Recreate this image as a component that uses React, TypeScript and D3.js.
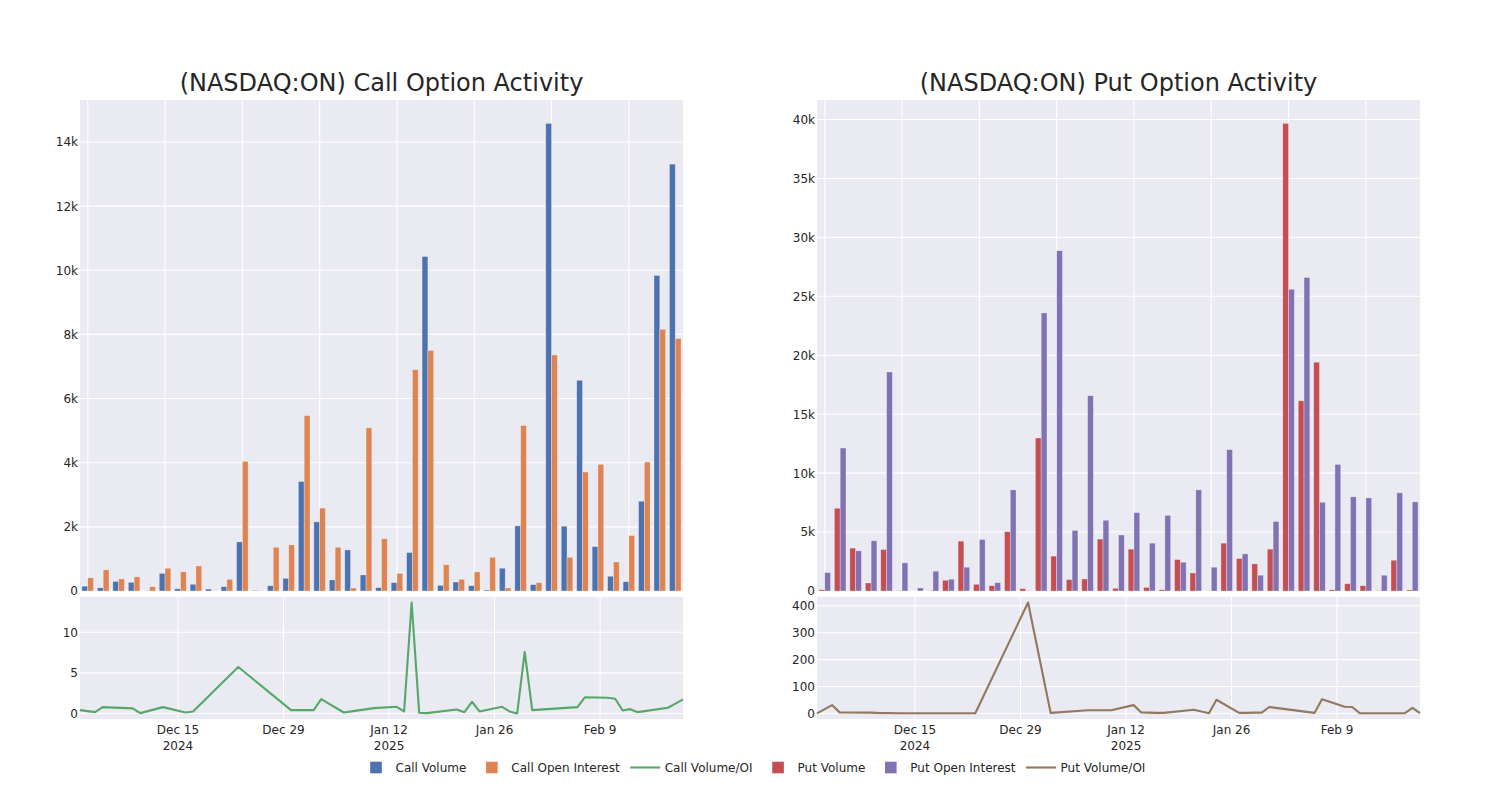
import React from 'react';
import * as d3 from 'd3';

const dates = ["2024-12-02","2024-12-04","2024-12-05","2024-12-09","2024-12-10","2024-12-13","2024-12-16","2024-12-17","2024-12-23","2024-12-30","2025-01-02","2025-01-03","2025-01-06","2025-01-07","2025-01-10","2025-01-13","2025-01-14","2025-01-15","2025-01-16","2025-01-17","2025-01-21","2025-01-22","2025-01-23","2025-01-24","2025-01-27","2025-01-28","2025-01-29","2025-01-30","2025-01-31","2025-02-06","2025-02-07","2025-02-10","2025-02-11","2025-02-12","2025-02-13","2025-02-14","2025-02-18","2025-02-19","2025-02-20"];

const callVolume = [150,100,300,270,5,550,70,210,60,135,1530,20,165,395,3415,2155,345,1280,500,105,260,1200,10430,175,280,165,30,710,2030,200,14580,2020,6570,1385,460,290,2800,9840,13310];
const callOpenInterest = [410,660,375,440,135,710,600,780,10,365,4040,11,1365,1440,5470,2585,1365,93,5090,1630,550,6900,7500,820,365,595,1050,95,5160,260,7360,1050,3710,3950,905,1730,4020,8160,7870];
const callRatio = [0.41,0.16,0.78,0.62,0.04,0.78,0.12,0.25,5.72,0.41,0.41,1.77,0.12,0.26,0.66,0.82,0.25,13.66,0.08,0.04,0.49,0.16,1.44,0.25,0.82,0.25,0.0,7.57,0.41,0.78,2.0,1.93,1.81,0.37,0.53,0.16,0.70,1.21,1.73];

const putVolume = [110,7020,3640,680,3520,30,0,30,910,4230,570,450,5030,200,12980,2960,970,1020,4400,230,3550,310,110,2670,1530,10,4060,2760,2300,3550,39670,16140,19410,110,620,450,20,2610,90];
const putOpenInterest = [1560,12130,3410,4260,18580,2390,260,1680,1000,2020,4370,710,8580,20,23590,28870,5140,16570,6000,4750,6650,4060,6420,2440,8580,2020,11990,3150,1340,5900,25600,26600,7530,10740,7990,7900,1340,8330,7560];
const putRatio = [0,31,4,3,2,1,1,1,1,412,2,4,10,12,12,31,4,3,2,2,14,7,1,51,2,2,3,3,24,2,53,25,24,1,1,1,1,21,1];

const xTickDates = ["2024-12-15","2024-12-29","2025-01-12","2025-01-26","2025-02-09"];
const xTickLabels = ["Dec 15","Dec 29","Jan 12","Jan 26","Feb 9"];
const xTickYears = ["2024","","2025","",""];

const callBarTicks = [0,2000,4000,6000,8000,10000,12000,14000];
const putBarTicks = [0,5000,10000,15000,20000,25000,30000,35000,40000];
const callRatioTicks = [0,5,10];
const putRatioTicks = [0,100,200,300,400];

const COLORS = {
  callVol: "#4C72B0", callOI: "#DD8452", callLine: "#55A868",
  putVol: "#C44E52", putOI: "#8172B3", putLine: "#937860",
};
const BG = "#EAEAF2";
const TXT = "#262626";
const FONT = "DejaVu Sans";
const FS = 12;

const parse = d3.utcParse("%Y-%m-%d");
const parsedDates = dates.map(d => parse(d) as Date);

const kFmt = (v: number) => (v === 0 ? "0" : `${v / 1000}k`);

function Panel(props: {
  x0: number; x1: number; title: string;
  vol: number[]; oi: number[]; ratio: number[];
  volColor: string; oiColor: string; lineColor: string;
  barTicks: number[]; ratioTicks: number[];
}) {
  const { x0, x1, title, vol, oi, ratio, volColor, oiColor, lineColor, barTicks, ratioTicks } = props;
  const topY0 = 100, topY1 = 591;
  const botY0 = 597, botY1 = 719;
  const n = vol.length;
  const xi = d3.scaleLinear().domain([-0.5, n - 0.5]).range([x0, x1]);
  const maxBar = d3.max([...vol, ...oi]) as number;
  const yb = d3.scaleLinear().domain([0, maxBar * 1.05]).range([topY1, topY0]);
  const bw = 0.375;

  const xt = d3.scaleUtc().domain([parsedDates[0], parsedDates[n - 1]]).range([x0, x1]);
  const rmin = d3.min(ratio) as number, rmax = d3.max(ratio) as number;
  const pad = (rmax - rmin) * 0.05;
  const yr = d3.scaleLinear().domain([rmin - pad, rmax + pad]).range([botY1, botY0]);
  const line = d3.line<number>().x((_, i) => xt(parsedDates[i])).y(v => yr(v));

  const catTicks = d3.range(0, n, 5);
  const cx = (x0 + x1) / 2;
  return (
    <g>
      <text x={cx} y={91} textAnchor="middle" fontSize={24} fill={TXT} fontFamily={FONT}>{title}</text>
      <rect x={x0} y={topY0} width={x1 - x0} height={topY1 - topY0} fill={BG} />
      {barTicks.map(t => (
        <line key={"hg" + t} x1={x0} x2={x1} y1={yb(t)} y2={yb(t)} stroke="#fff" strokeWidth={1.1} />
      ))}
      {catTicks.map(t => (
        <line key={"vg" + t} x1={xi(t)} x2={xi(t)} y1={topY0} y2={topY1} stroke="#fff" strokeWidth={1.1} />
      ))}
      {vol.map((v, i) => (
        <rect key={"v" + i} x={xi(i - bw)} width={xi(i) - xi(i - bw)} y={yb(v)} height={yb(0) - yb(v)}
          fill={volColor} stroke="#fff" strokeOpacity={0.45} strokeWidth={0.7} />
      ))}
      {oi.map((v, i) => (
        <rect key={"o" + i} x={xi(i)} width={xi(i + bw) - xi(i)} y={yb(v)} height={yb(0) - yb(v)}
          fill={oiColor} stroke="#fff" strokeOpacity={0.45} strokeWidth={0.7} />
      ))}
      {barTicks.map(t => (
        <text key={"yl" + t} x={x0 - 2} y={yb(t) + 4.4} textAnchor="end" fontSize={FS} fill={TXT} fontFamily={FONT}>{kFmt(t)}</text>
      ))}
      <rect x={x0} y={botY0} width={x1 - x0} height={botY1 - botY0} fill={BG} />
      {ratioTicks.map(t => (
        <line key={"rg" + t} x1={x0} x2={x1} y1={yr(t)} y2={yr(t)} stroke="#fff" strokeWidth={1.1} />
      ))}
      {xTickDates.map(d => {
        const x = xt(parse(d) as Date);
        return <line key={"xg" + d} x1={x} x2={x} y1={botY0} y2={botY1} stroke="#fff" strokeWidth={1.1} />;
      })}
      <path d={line(ratio) as string} fill="none" stroke={lineColor} strokeWidth={2.1} strokeLinejoin="round" />
      {ratioTicks.map(t => (
        <text key={"rl" + t} x={x0 - 2} y={yr(t) + 4.4} textAnchor="end" fontSize={FS} fill={TXT} fontFamily={FONT}>{t}</text>
      ))}
      {xTickDates.map((d, i) => {
        const x = xt(parse(d) as Date);
        return (
          <g key={"xl" + d}>
            <text x={x} y={733.5} textAnchor="middle" fontSize={FS} fill={TXT} fontFamily={FONT}>{xTickLabels[i]}</text>
            {xTickYears[i] && (
              <text x={x} y={749.5} textAnchor="middle" fontSize={FS} fill={TXT} fontFamily={FONT}>{xTickYears[i]}</text>
            )}
          </g>
        );
      })}
    </g>
  );
}

const legendItems = [
  { label: "Call Volume", color: COLORS.callVol, kind: "sq" },
  { label: "Call Open Interest", color: COLORS.callOI, kind: "sq" },
  { label: "Call Volume/OI", color: COLORS.callLine, kind: "line" },
  { label: "Put Volume", color: COLORS.putVol, kind: "sq" },
  { label: "Put Open Interest", color: COLORS.putOI, kind: "sq" },
  { label: "Put Volume/OI", color: COLORS.putLine, kind: "line" },
];

function measure(text: string): number {
  try {
    const c = document.createElement("canvas").getContext("2d");
    if (c) {
      c.font = `${FS}px "${FONT}"`;
      return c.measureText(text).width;
    }
  } catch (e) { /* ignore */ }
  return text.length * FS * 0.58;
}

function Legend() {
  let c = 376;
  const ly = 767.5;
  const items = legendItems.map(it => {
    const w = measure(it.label);
    const el = (
      <g key={it.label}>
        {it.kind === "sq" ? (
          <rect x={c - 5.8} y={ly - 5.8} width={11.6} height={11.6} fill={it.color} />
        ) : (
          <line x1={c - 15} x2={c + 15} y1={ly} y2={ly} stroke={it.color} strokeWidth={2.1} />
        )}
        <text x={c + 19.5} y={ly + 4.4} fontSize={FS} fill={TXT} fontFamily={FONT}>{it.label}</text>
      </g>
    );
    c += 19.5 + w + 25.5;
    return el;
  });
  return <g>{items}</g>;
}

export default function App() {
  return (
    <svg width={1500} height={800} style={{ position: "absolute", left: 0, top: 0, background: "#fff" }}>
      <rect x={0} y={0} width={1500} height={800} fill="#fff" />
      <Panel x0={80} x1={683} title="(NASDAQ:ON) Call Option Activity"
        vol={callVolume} oi={callOpenInterest} ratio={callRatio}
        volColor={COLORS.callVol} oiColor={COLORS.callOI} lineColor={COLORS.callLine}
        barTicks={callBarTicks} ratioTicks={callRatioTicks} />
      <Panel x0={817} x1={1420} title="(NASDAQ:ON) Put Option Activity"
        vol={putVolume} oi={putOpenInterest} ratio={putRatio}
        volColor={COLORS.putVol} oiColor={COLORS.putOI} lineColor={COLORS.putLine}
        barTicks={putBarTicks} ratioTicks={putRatioTicks} />
      <Legend />
    </svg>
  );
}
